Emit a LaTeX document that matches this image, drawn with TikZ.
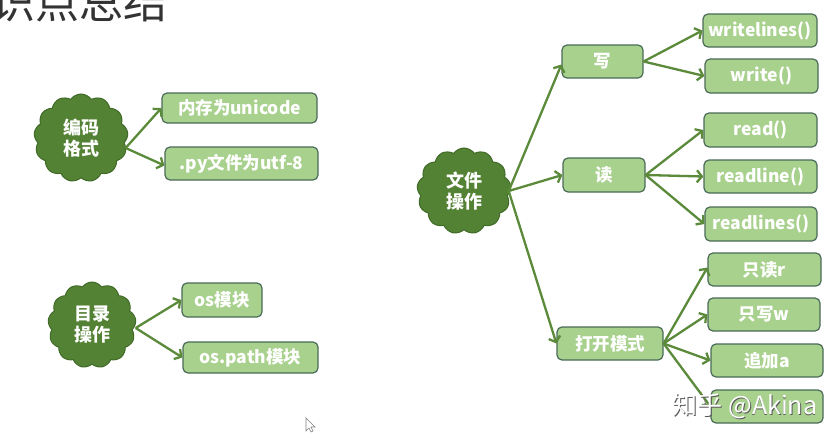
\documentclass[tikz,border=0pt]{standalone}
\usepackage{fontspec}
\setmainfont{Noto Sans CJK SC}
\usetikzlibrary{shapes.symbols,arrows.meta}
\definecolor{boxfill}{HTML}{A9D18E}
\definecolor{boxline}{HTML}{4A6B57}
\definecolor{cloudfill}{HTML}{548235}
\definecolor{cloudline}{HTML}{3F6A27}
\definecolor{arrowc}{HTML}{5A8A3A}
\definecolor{titlec}{HTML}{333333}
\tikzset{
  box/.style={draw=boxline, fill=boxfill, rounded corners=5pt, line width=1.2pt,
    text=white, font=\fontsize{17.5}{19}\selectfont\bfseries, inner sep=0pt},
  cloudnode/.style={cloud, cloud puffs=13, cloud puff arc=110, aspect=1,
    draw=cloudline, fill=cloudfill, line width=1pt, text=white,
    font=\fontsize{18}{21}\selectfont\bfseries, align=center, inner sep=0pt},
  arr/.style={draw=arrowc, line width=2.3pt, -{Straight Barb[length=5pt,width=12pt]}},
}
\begin{document}
\begin{tikzpicture}[x=1pt,y=-1pt]
\useasboundingbox (0,0) rectangle (840,439);
\clip (0,0) rectangle (840,439);
\fill[white] (0,0) rectangle (840,439);
% title
\node[text=titlec, font=\fontsize{44}{44}\selectfont, inner sep=0pt] (title) at (58,2) {知识点总结};
% clouds
\node[cloudnode, minimum width=94pt, minimum height=88pt] (c1) at (81,138) {编码\\格式};
\node[cloudnode, minimum width=88pt, minimum height=86pt] (c2) at (92,325) {目录\\操作};
\node[cloudnode, minimum width=94pt, minimum height=86pt] (c3) at (464,191) {文件\\操作};
% left boxes
\node[box, minimum width=155pt, minimum height=30pt] (uni) at (239.5,108) {内存为unicode};
\node[box, minimum width=153pt, minimum height=33pt] (utf) at (241.5,163.5) {.py文件为utf-8};
\node[box, minimum width=80pt, minimum height=34pt] (osm) at (222,300) {os模块};
\node[box, minimum width=135pt, minimum height=31pt] (osp) at (250.5,357.5) {os.path模块};
% right boxes
\node[box, minimum width=81pt, minimum height=33pt] (xie) at (602.5,61.5) {写};
\node[box, minimum width=82pt, minimum height=34pt] (du) at (604,175) {读};
\node[box, minimum width=106pt, minimum height=33pt] (dk) at (610,343.5) {打开模式};
\node[box, minimum width=114pt, minimum height=33pt] (wl) at (760,30.5) {writelines()};
\node[box, minimum width=113pt, minimum height=34pt] (w) at (761.5,76) {write()};
\node[box, minimum width=113pt, minimum height=34pt] (rd) at (760.5,130) {read()};
\node[box, minimum width=113pt, minimum height=33pt] (rdl) at (760.5,176.5) {readline()};
\node[box, minimum width=112pt, minimum height=34pt] (rdls) at (761,224) {readlines()};
\node[box, minimum width=113pt, minimum height=33pt] (mr) at (764.5,269.5) {只读r};
\node[box, minimum width=112pt, minimum height=33pt] (mw) at (764,314.5) {只写w};
\node[box, minimum width=112pt, minimum height=33pt] (ma) at (767,360.5) {追加a};
\node[box, minimum width=112pt, minimum height=33pt] (mp) at (767,406.5) {};
% arrows
\coordinate (s1) at ([xshift=-2pt,yshift=-10pt]c1.east);
\draw[arr] (s1) -- (uni.west);
\draw[arr] (s1) -- ([yshift=-2pt]utf.west);
\coordinate (s2) at ([yshift=-3pt]c2.east);
\draw[arr] (s2) -- (osm.west);
\draw[arr] (s2) -- (osp.west);
\coordinate (s3) at ([xshift=-2pt]c3.east);
\draw[arr] (s3) -- ([yshift=-3pt]xie.west);
\draw[arr] (s3) -- (du.west);
\draw[arr] (s3) -- (dk.west);
\draw[arr] (xie.east) -- (wl.west);
\draw[arr] (xie.east) -- (w.west);
\draw[arr] (du.east) -- (rd.west);
\draw[arr] (du.east) -- (rdl.west);
\draw[arr] (du.east) -- (rdls.west);
\draw[arr] (dk.east) -- ([yshift=2pt]mr.west);
\draw[arr] (dk.east) -- (mw.west);
\draw[arr] (dk.east) -- (ma.west);
\draw[arr] (dk.east) -- (mp.west);
% watermark
\node[text=gray!70!black, font=\fontsize{25}{25}\selectfont, inner sep=0pt] (wm0) at (745.8,406.8) {知乎 @Akina};
\node[text=white, font=\fontsize{25}{25}\selectfont, inner sep=0pt] (wm) at (745,406) {知乎 @Akina};
% cursor
\draw[gray, fill=white, line width=0.6pt] (306,418) -- (306,431) -- (309,428) -- (311,432) -- (313,431) -- (311,427) -- (315,427) -- cycle;
\end{tikzpicture}
\end{document}
